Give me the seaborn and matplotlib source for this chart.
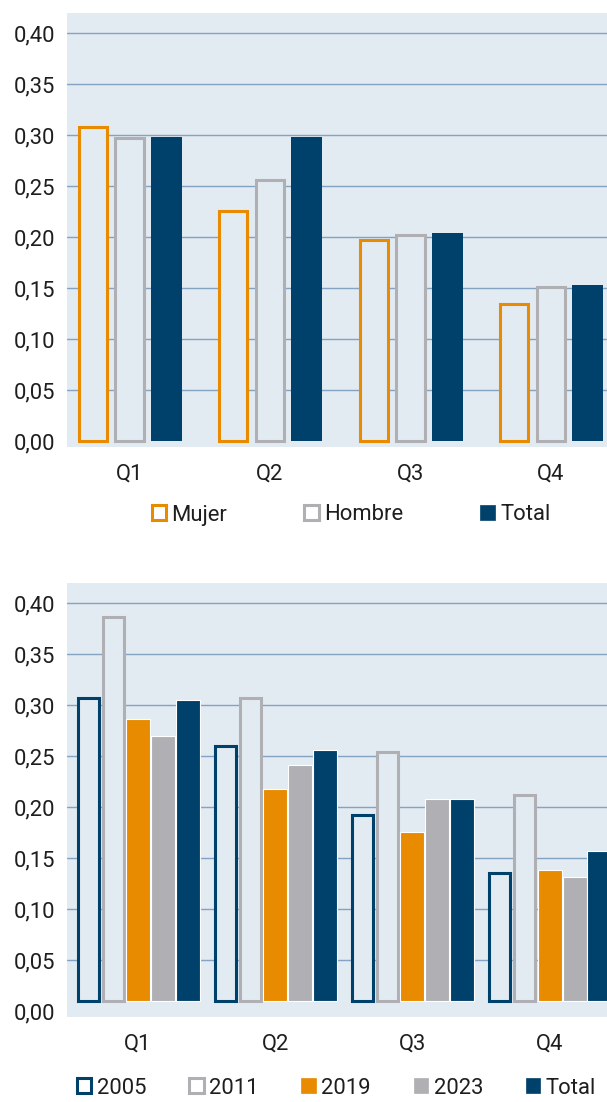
import matplotlib
matplotlib.use("Agg")
import matplotlib.pyplot as plt
import pandas as pd
import seaborn as sns
from matplotlib.patches import Patch

# ---- data -------------------------------------------------------------
quintiles = ["Q1", "Q2", "Q3", "Q4"]

sex_series = ["Mujer", "Hombre", "Total"]
mujer = [0.308, 0.226, 0.197, 0.135]
hombre = [0.297, 0.256, 0.202, 0.151]
total_sexo = [0.298, 0.298, 0.204, 0.153]

year_series = ["2005", "2011", "2019", "2023", "Total"]
y2005 = [0.307, 0.260, 0.192, 0.135]
y2011 = [0.387, 0.307, 0.254, 0.212]
y2019 = [0.287, 0.218, 0.176, 0.138]
y2023 = [0.270, 0.241, 0.208, 0.132]
total_anual = [0.305, 0.256, 0.208, 0.157]

y_ticks = [0.00, 0.05, 0.10, 0.15, 0.20, 0.25, 0.30, 0.35, 0.40]

# ---- style --------------------------------------------------------------
BG = "#e2eaf2"
GRID = "#84a3c3"
NAVY = "#00416b"
ORANGE = "#e88b00"
GRAY = "#b0afb4"
TEXT = "#1e1e1e"
FS = 15.8
OUTLINE_LW = 2.2

sns.set_style("white")
plt.rcParams["font.family"] = ["Roboto", "DejaVu Sans"]

fig = plt.figure(figsize=(6.07, 11.02), dpi=100)


def long_frame(series_names, columns):
    rows = []
    for name, vals in zip(series_names, columns):
        for q, v in zip(quintiles, vals):
            rows.append({"cuartil": q, "serie": name, "valor": v})
    return pd.DataFrame(rows)


def draw_panel(ax, df, order, styles, width, gap, xlim, base, filled_edge):
    palette = {k: styles[k][0] for k in order}
    sns.barplot(data=df, x="cuartil", y="valor", hue="serie",
                order=quintiles, hue_order=order, palette=palette,
                width=width, gap=gap, ax=ax, legend=False,
                saturation=1, err_kws={"linewidth": 0})
    ax.set_xlim(*xlim)
    ax.set_ylim(-0.0055, 0.42)
    ax_w_px = ax.get_position().width * fig.get_figwidth() * fig.dpi
    px_per_unit = ax_w_px / (xlim[1] - xlim[0])
    shrink = (OUTLINE_LW / 72 * fig.dpi) / px_per_unit
    for name, cont in zip(order, ax.containers):
        color, filled = styles[name]
        for rect in cont:
            top = rect.get_y() + rect.get_height()
            rect.set_y(base)
            rect.set_height(top - base)
            if filled:
                rect.set_facecolor(color)
                if filled_edge:
                    rect.set_edgecolor("white")
                    rect.set_linewidth(0.8)
                else:
                    rect.set_edgecolor("none")
            else:
                rect.set_facecolor(BG)
                rect.set_edgecolor(color)
                rect.set_linewidth(OUTLINE_LW)
                rect.set_x(rect.get_x() + shrink / 2)
                rect.set_width(rect.get_width() - shrink)

    ax.set_facecolor(BG)
    for s in ax.spines.values():
        s.set_visible(False)
    ax.set_axisbelow(True)
    ax.set_yticks(y_ticks)
    ax.set_yticklabels([f"{v:.2f}".replace(".", ",") for v in y_ticks])
    ax.yaxis.grid(True, color=GRID, linewidth=1.0)
    ax.xaxis.grid(False)
    ax.get_ygridlines()[0].set_visible(False)
    ax.tick_params(axis="y", length=0, pad=8.6, labelsize=FS, labelcolor=TEXT)
    ax.tick_params(axis="x", length=0, pad=12, labelsize=FS, labelcolor=TEXT)
    ax.set_xlabel("")
    ax.set_ylabel("")


# ---- top panel: by sex ----------------------------------------------------
ax1 = fig.add_axes([0.1104, 0.5946, 0.8896, 0.3936])
sex_styles = {"Mujer": (ORANGE, False), "Hombre": (GRAY, False), "Total": (NAVY, True)}
df_sex = long_frame(sex_series, [mujer, hombre, total_sexo])
draw_panel(ax1, df_sex, sex_series, sex_styles, width=0.785, gap=0.144,
           xlim=(-0.445, 3.399), base=0.0, filled_edge=False)

# ---- bottom panel: by year ------------------------------------------------
ax2 = fig.add_axes([0.1104, 0.0774, 0.8896, 0.3936])
year_styles = {"2005": (NAVY, False), "2011": (GRAY, False), "2019": (ORANGE, True),
               "2023": (GRAY, True), "Total": (NAVY, True)}
df_year = long_frame(year_series, [y2005, y2011, y2019, y2023, total_anual])
draw_panel(ax2, df_year, year_series, year_styles, width=0.908, gap=0.037,
           xlim=(-0.5175, 3.418), base=0.01, filled_edge=True)


def legend_handles(order, styles):
    hs = []
    for name in order:
        color, filled = styles[name]
        if filled:
            hs.append(Patch(facecolor=color, edgecolor=color, linewidth=0.5))
        else:
            hs.append(Patch(facecolor="white", edgecolor=color, linewidth=OUTLINE_LW))
    return hs


common = dict(loc="center", frameon=False, fontsize=FS, handlelength=0.66,
              handleheight=0.66, handletextpad=0.25, borderpad=0,
              borderaxespad=0, labelcolor=TEXT)
fig.legend(legend_handles(sex_series, sex_styles), sex_series, ncol=3,
           bbox_to_anchor=(351 / 607, 1 - 515 / 1102), columnspacing=3.5, **common)
fig.legend(legend_handles(year_series, year_styles), year_series, ncol=5,
           bbox_to_anchor=(336.5 / 607, 1 - 1088 / 1102), columnspacing=1.95, **common)

fig.savefig("out.png", dpi=100)
